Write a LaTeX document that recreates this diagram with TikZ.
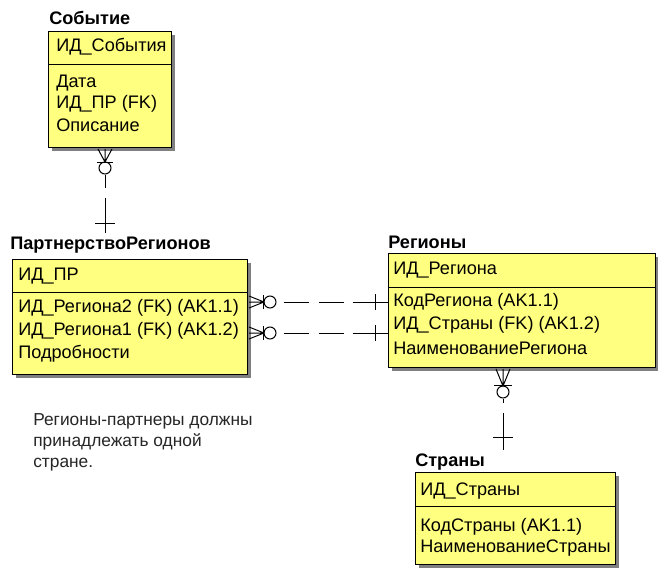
\documentclass[tikz,border=0pt]{standalone}
\usepackage{fontspec}
\setmainfont{Liberation Sans}
\definecolor{erwin}{RGB}{255,255,128}
\newcommand\entfont{\fontsize{13.6pt}{16pt}\selectfont}
\newcommand\notefont{\fontsize{13pt}{16pt}\selectfont}
\tikzset{
  ent/.style={draw=black, fill=erwin, line width=0.75pt, anchor=north west, inner sep=0pt},
  shad/.style={fill=black!50},
  txt/.style={anchor=west, inner sep=0pt, font=\entfont},
  ttl/.style={anchor=west, inner sep=0pt, font=\entfont\bfseries},
  rel/.style={line width=0.75pt, draw=black},
  opt/.style={circle, draw=black, line width=0.75pt, minimum size=9pt, inner sep=0pt},
  hdash/.style={rel, dash pattern=on 0pt off 5.25pt on 18.75pt off 7.5pt on 18.75pt off 6.75pt on 30pt},
  vdashA/.style={rel, dash pattern=on 9.75pt off 7.5pt on 30pt},
  vdashB/.style={rel, dash pattern=on 3pt off 7.5pt on 30pt},
}
\begin{document}
\begin{tikzpicture}[x=0.75pt, y=-0.75pt]
\useasboundingbox[fill=white] (0,0) rectangle (658,571);

% ---------- Событие ----------
\fill[shad] (52,35) rectangle (175,151);
\node[ent, minimum width=92.25pt, minimum height=87pt] (ev) at (48,31) {};
\draw[rel] (48,64) -- (171,64);
\node[ttl] (evt) at (49,18) {Событие};
\node[txt] (ev1) at (56,47) {ИД\_События};
\node[txt] (ev2) at (56,83) {Дата};
\node[txt] (ev3) at (56,104) {ИД\_ПР (FK)};
\node[txt] (ev4) at (56,125) {Описание};

% ---------- ПартнерствоРегионов ----------
\fill[shad] (16,263) rectangle (251,378);
\node[ent, minimum width=176.25pt, minimum height=86.25pt] (pr) at (12,259) {};
\draw[rel] (12,292) -- (247,292);
\node[ttl] (prt) at (10,245) {ПартнерствоРегионов};
\node[txt] (pr1) at (18,276) {ИД\_ПР};
\node[txt] (pr2) at (18,308) {ИД\_Региона2 (FK) (AK1.1)};
\node[txt] (pr3) at (18,331) {ИД\_Региона1 (FK) (AK1.2)};
\node[txt] (pr4) at (18,354) {Подробности};

% ---------- Регионы ----------
\fill[shad] (392,257) rectangle (659,371);
\node[ent, minimum width=200.25pt, minimum height=85.5pt] (rg) at (388,253) {};
\draw[rel] (388,287) -- (655,287);
\node[ttl] (rgt) at (388,242) {Регионы};
\node[txt] (rg1) at (393,270) {ИД\_Региона};
\node[txt] (rg2) at (393,302) {КодРегиона (AK1.1)};
\node[txt] (rg3) at (393,325) {ИД\_Страны (FK) (AK1.2)};
\node[txt] (rg4) at (393,348) {НаименованиеРегиона};

% ---------- Страны ----------
\fill[shad] (419,476) rectangle (619,568);
\node[ent, minimum width=150pt, minimum height=69pt] (st) at (415,472) {};
\draw[rel] (415,506) -- (615,506);
\node[ttl] (stt) at (415,462) {Страны};
\node[txt] (st1) at (420,491) {ИД\_Страны};
\node[txt] (st2) at (420,527) {КодСтраны (AK1.1)};
\node[txt] (st3) at (420,548) {НаименованиеСтраны};

% ---------- Note ----------
\node[anchor=north west, inner sep=0pt, align=left, font=\notefont, text=black!85] (note) at (33,413)
  {Регионы-партнеры должны\\принадлежать одной\\стране.};

% ---------- Событие -- ПартнерствоРегионов ----------
\node[opt] (c1) at (105,168) {};
\coordinate (e1) at (105,233);
\draw[rel] (98,149) -- (105,162) -- (112,149) (105,149) -- (105,162);
\draw[rel] (97,162) -- (113,162);
\draw[vdashA] (c1.south) -- (e1);
\draw[rel] (95,223) -- (115,223);

% ---------- ПартнерствоРегионов -- Регионы (upper) ----------
\node[opt] (c2) at (270,302) {};
\coordinate (e2) at (rg.west |- c2);
\draw[rel] (249,296) -- (264,302) -- (249,308) (249,302) -- (264,302);
\draw[rel] (263,295) -- (263,309);
\draw[hdash] (c2.east) -- (e2);
\draw[rel] (375,294) -- (375,310);

% ---------- ПартнерствоРегионов -- Регионы (lower) ----------
\node[opt] (c3) at (270,333) {};
\coordinate (e3) at (rg.west |- c3);
\draw[rel] (249,327) -- (264,333) -- (249,339) (249,333) -- (264,333);
\draw[rel] (263,326) -- (263,340);
\draw[hdash] (c3.east) -- (e3);
\draw[rel] (375,325) -- (375,341);

% ---------- Регионы -- Страны ----------
\node[opt] (c4) at (503,392) {};
\coordinate (e4) at (503,450);
\draw[rel] (496,369) -- (503,386) -- (510,369) (503,369) -- (503,386);
\draw[rel] (494,385) -- (512,385);
\draw[vdashB] (c4.south) -- (e4);
\draw[rel] (493,437) -- (513,437);
\end{tikzpicture}
\end{document}
